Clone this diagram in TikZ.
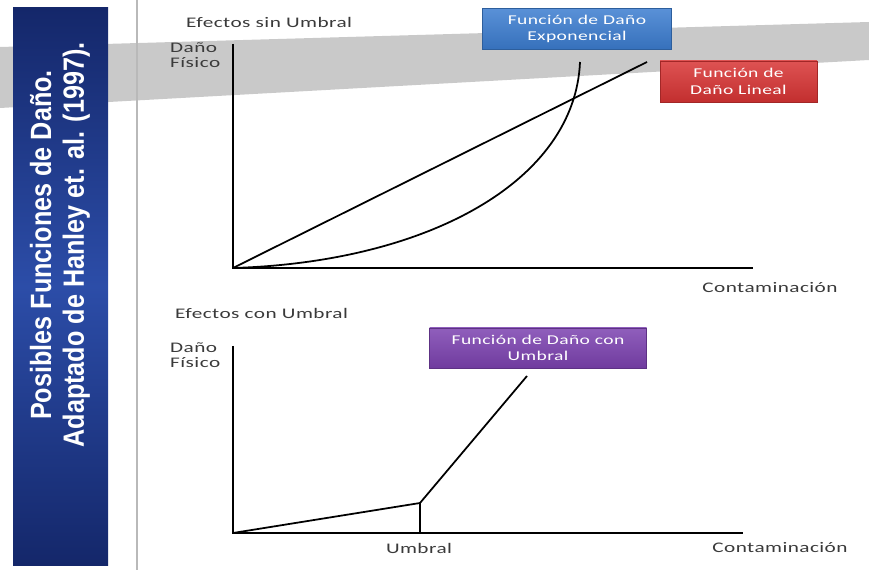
\documentclass[tikz,border=0pt]{standalone}
\usepackage{fontspec}
\setmainfont{Carlito}[FakeStretch=1.45,LetterSpace=3]
\newfontfamily\titlefont{Liberation Sans}[FakeStretch=0.86]
\usepackage{tikz}

\definecolor{barblue}{HTML}{2C4DA8}
\definecolor{bardark}{HTML}{14276A}
\definecolor{bandgray}{HTML}{C9C9C9}
\definecolor{expblue}{HTML}{3C7DD0}
\definecolor{linred}{HTML}{D83434}
\definecolor{thrpurple}{HTML}{7C42B0}
\definecolor{labelgray}{HTML}{3A3A3A}

\tikzset{
  axis/.style={line width=1.5pt},
  curve/.style={line width=1.5pt},
  label/.style={font=\fontsize{12.5}{13}\selectfont, text=labelgray, inner sep=0pt},
  funcbox/.style={rectangle, draw=#1!75!black, top color=#1!85!white, bottom color=#1!90!black,
    text=white, align=center, inner sep=0pt, font=\fontsize{11.5}{14}\selectfont}
}

\begin{document}
\begin{tikzpicture}[x=0.03cm,y=-0.03cm]
    \useasboundingbox (0,0) rectangle (869,570);

    \fill[bandgray] (0,47) -- (869,22) -- (869,60) -- (0,108) -- cycle;
    \draw[gray!55, line width=1.2pt] (137,0) -- (137,570);

    \fill[top color=bardark, bottom color=bardark, middle color=barblue] (13,8) rectangle (108,565);
    \node[rotate=90, align=center, text=white, font=\titlefont\bfseries\fontsize{25}{28}\selectfont] (title) at (60,245)
        {Posibles Funciones de Daño.\\ Adaptado de Hanley et. al. (1997).};

    \coordinate (O1) at (233,268);
    \coordinate (Y1) at (233,44);
    \coordinate (X1) at (753,268);
    \coordinate (L1) at (647,62);
    \coordinate (E1) at (580,62);
    \draw[axis] (Y1) -- (O1) -- (X1);
    \draw[curve] (O1) -- (L1);
    \draw[curve] (O1) .. controls (430,262) and (575,180) .. (E1);

    \node[label, anchor=west] (sin) at (186,22) {Efectos sin Umbral};
    \node[label, anchor=west] (dano1) at (170,48) {Daño};
    \node[label, anchor=west] (fis1) at (170,63) {Físico};
    \node[label] (cont1) at (770,288) {Contaminación};

    \node[funcbox=expblue, minimum width=189*0.03cm, minimum height=41*0.03cm] (expo) at (577,29)
        {Función de Daño\\Exponencial};
    \node[funcbox=linred, minimum width=157*0.03cm, minimum height=41*0.03cm] (lineal) at (738.5,81.5)
        {Función de\\Daño Lineal};

    \coordinate (O2) at (233,533);
    \coordinate (Y2) at (233,346);
    \coordinate (X2) at (743,533);
    \coordinate (K2) at (420,503);
    \coordinate (F2) at (420,533);
    \coordinate (P2) at (527,376);
    \draw[axis] (Y2) -- (O2) -- (X2);
    \draw[curve] (O2) -- (K2) -- (P2);
    \draw[line width=1pt] (K2) -- (F2);

    \node[label, anchor=west] (con) at (175,313) {Efectos con Umbral};
    \node[label, anchor=west] (dano2) at (170,348) {Daño};
    \node[label, anchor=west] (fis2) at (170,363) {Físico};
    \node[label] (umbral) at (419,548) {Umbral};
    \node[label] (cont2) at (780,548) {Contaminación};

    \node[funcbox=thrpurple, minimum width=217*0.03cm, minimum height=40*0.03cm] (umb) at (538,348)
        {Función de Daño con\\Umbral};
\end{tikzpicture}
\end{document}
